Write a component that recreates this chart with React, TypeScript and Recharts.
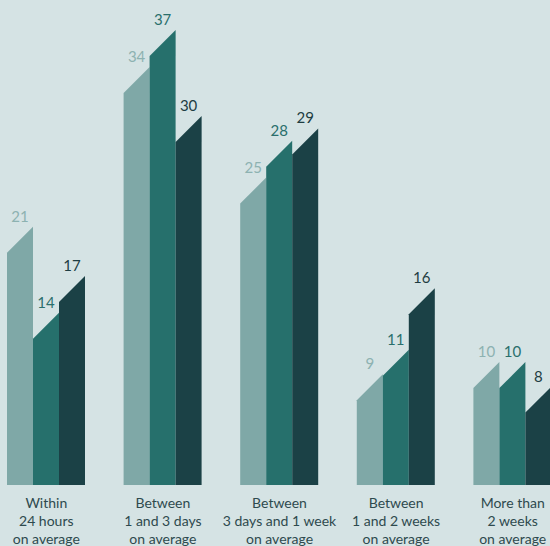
import React from 'react';
import { BarChart, Bar, XAxis, YAxis, LabelList } from 'recharts';

const categories = [
  'Within\n24 hours\non average',
  'Between\n1 and 3 days\non average',
  'Between\n3 days and 1 week\non average',
  'Between\n1 and 2 weeks\non average',
  'More than\n2 weeks\non average',
];
const seriesA = [21, 34, 25, 9, 10];
const seriesB = [14, 37, 28, 11, 10];
const seriesC = [17, 30, 29, 16, 8];

const data = categories.map((name, i) => ({
  name,
  a: seriesA[i],
  b: seriesB[i],
  c: seriesC[i],
}));

const FONT = 'Lato, "Open Sans", sans-serif';

// bar with a 45 degree slanted top, peak on the right edge
const SlantBar = (props: any) => {
  const { x, y, width, height, fill } = props;
  if (!height || height <= 0) return null;
  const left = Math.min(y + width, y + height);
  const pts = `${x},${left} ${x + width},${y} ${x + width},${y + height} ${x},${y + height}`;
  return <polygon points={pts} fill={fill} />;
};

const makeLabel = (color: string) => (props: any) => {
  const { x, y, width, value } = props;
  return (
    <text
      x={x + width / 2}
      y={y - 5}
      textAnchor="middle"
      fill={color}
      fontSize={15}
      fontFamily={FONT}
    >
      {value}
    </text>
  );
};

const CategoryTick = (props: any) => {
  const { x, y, payload } = props;
  const lines = String(payload.value).split('\n');
  return (
    <text x={x} y={y} textAnchor="middle" fill="#2e4a4e" fontSize={14} fontFamily={FONT}>
      {lines.map((l, i) => (
        <tspan key={i} x={x} dy={i === 0 ? 23 : 18}>
          {l}
        </tspan>
      ))}
    </text>
  );
};

export default function App() {
  return (
    <div
      style={{
        position: 'absolute',
        top: 0,
        left: 0,
        width: 550,
        height: 546,
        overflow: 'hidden',
        background: '#d5e3e4',
      }}
    >
      <div style={{ position: 'absolute', top: 0, left: -12 }}>
        <BarChart
          width={583}
          height={546}
          data={data}
          margin={{ top: 30, right: 0, bottom: 0, left: 0 }}
          barSize={26}
          barGap={0}
        >
          <XAxis
            dataKey="name"
            axisLine={false}
            tickLine={false}
            tickSize={0}
            tickMargin={0}
            height={61}
            interval={0}
            tick={<CategoryTick />}
          />
          <YAxis hide domain={[0, 37]} />
          <Bar dataKey="a" fill="#7fa8a7" shape={<SlantBar />} isAnimationActive={false}>
            <LabelList dataKey="a" content={makeLabel('#8db2b1')} />
          </Bar>
          <Bar dataKey="b" fill="#26706c" shape={<SlantBar />} isAnimationActive={false}>
            <LabelList dataKey="b" content={makeLabel('#2a6f6c')} />
          </Bar>
          <Bar dataKey="c" fill="#1b4146" shape={<SlantBar />} isAnimationActive={false}>
            <LabelList dataKey="c" content={makeLabel('#1e3d42')} />
          </Bar>
        </BarChart>
      </div>
    </div>
  );
}
